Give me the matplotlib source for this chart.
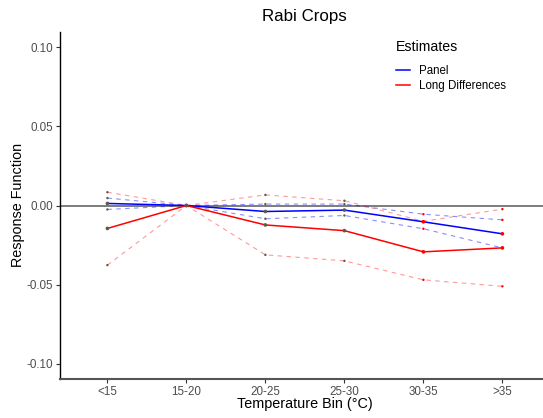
import matplotlib
matplotlib.use("Agg")
import matplotlib.pyplot as plt
from matplotlib.lines import Line2D

plt.rcParams['font.family'] = ['Liberation Sans', 'DejaVu Sans']

bins = ["<15", "15-20", "20-25", "25-30", "30-35", ">35"]
panel = [0.0013, 0.0, -0.0038, -0.0029, -0.0103, -0.0179]
panel_upper = [0.0047, 0.0, 0.0009, 0.0009, -0.0055, -0.0091]
panel_lower = [-0.0025, 0.0, -0.0084, -0.0063, -0.0147, -0.0268]
long_diff = [-0.0145, 0.0, -0.0123, -0.0159, -0.0293, -0.0268]
long_diff_upper = [0.0084, 0.0, 0.0067, 0.0030, -0.0100, -0.0023]
long_diff_lower = [-0.0377, 0.0, -0.0312, -0.0350, -0.0470, -0.0511]
yticks = [-0.10, -0.05, 0.00, 0.05, 0.10]

W, H = 543, 418
fig = plt.figure(figsize=(W / 100, H / 100), dpi=100)
ax = fig.add_axes([60 / W, (H - 379) / H, 489.8 / W, 347 / H])

x = list(range(1, len(bins) + 1))
BLUE = "#0000FF"
RED = "#FF0000"
ptcol = ["#5a5a50"] * 4 + [RED] * 2

ax.axhline(0, color="#666666", lw=1.2, zorder=1)

for ser, col, a in [(panel_upper, BLUE, 0.45), (panel_lower, BLUE, 0.45),
                    (long_diff_upper, RED, 0.4), (long_diff_lower, RED, 0.4)]:
    ax.plot(x, ser, color=col, lw=0.8, alpha=a, dashes=(4, 4), zorder=2)
    ax.scatter(x, ser, s=3, c=ptcol, zorder=4, linewidths=0)

ax.plot(x, panel, color=BLUE, lw=1.1, zorder=3)
ax.plot(x, long_diff, color=RED, lw=1.1, zorder=3)
ax.scatter(x, panel, s=7, c=ptcol, zorder=5, linewidths=0)
ax.scatter(x, long_diff, s=7, c=ptcol, zorder=5, linewidths=0)

ax.set_xlim(0.4, 6.6)
ax.set_ylim(-0.1097, 0.1097)
ax.set_xticks(x)
ax.set_xticklabels(bins)
ax.set_yticks(yticks)
ax.set_yticklabels([f"{v:.2f}" for v in yticks])

for s in ["top", "right"]:
    ax.spines[s].set_visible(False)
ax.spines["left"].set_color("black")
ax.spines["left"].set_linewidth(1.0)
ax.spines["bottom"].set_color("#555555")
ax.spines["bottom"].set_linewidth(1.5)
ax.tick_params(axis="both", length=3, width=0.8, color="#333333",
               labelcolor="#4D4D4D", labelsize=8.4, pad=2)

fig.text(305 / W, 1 - 404 / H, "Temperature Bin (°C)", ha="center", va="center", fontsize=10.4)
fig.text(18 / W, 1 - 205 / H, "Response Function", ha="center", va="center",
         rotation=90, fontsize=10.4)
fig.text(304 / W, 1 - 16 / H, "Rabi Crops", ha="center", va="center", fontsize=12.2)

fig.text(396 / W, 1 - 47 / H, "Estimates", ha="left", va="center", fontsize=10.2)
handles = [Line2D([], [], color=BLUE, lw=1.1), Line2D([], [], color=RED, lw=1.1)]
leg = fig.legend(handles, ["Panel", "Long Differences"],
                 loc="upper left", bbox_to_anchor=(396 / W, 1 - 65 / H),
                 frameon=False, fontsize=8.3,
                 handlelength=1.25, handletextpad=0.75, labelspacing=0.3,
                 borderpad=0, borderaxespad=0)

fig.savefig("out.png", dpi=100)
